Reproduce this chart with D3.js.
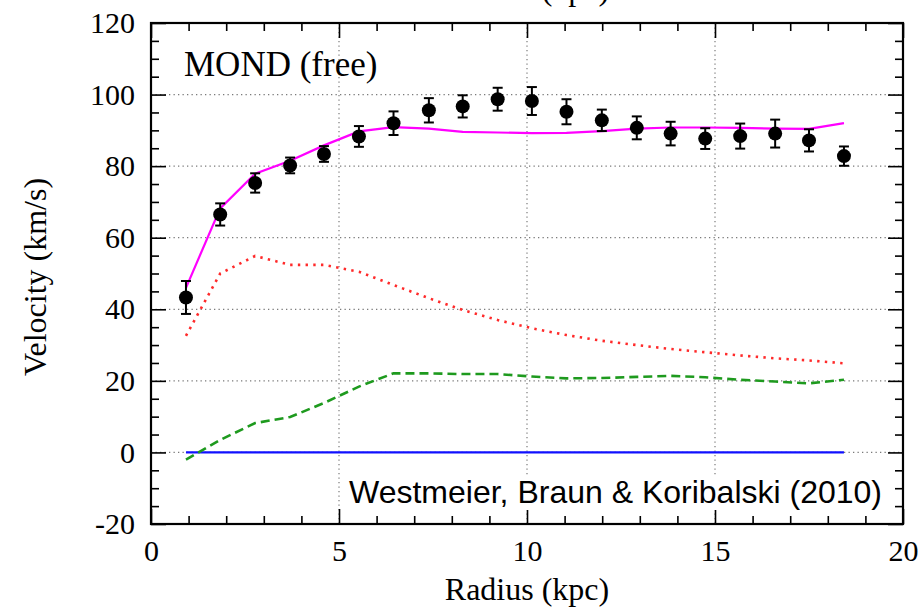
<!DOCTYPE html>
<html>
<head>
<meta charset="utf-8">
<script src="https://cdn.jsdelivr.net/npm/d3@7"></script>
<style>
  html, body { margin: 0; padding: 0; background: #fff; }
  svg { display: block; }
  .serif { font-family: "Liberation Serif", "Times New Roman", serif; }
</style>
</head>
<body>
<svg id="chart" width="923" height="607"></svg>
<script>
// Rotation curve: radius (kpc) for each sample
const radius = [0.93, 1.84, 2.77, 3.70, 4.60, 5.53, 6.45, 7.39, 8.29, 9.22,
                10.13, 11.05, 11.99, 12.92, 13.82, 14.74, 15.67, 16.60, 17.50, 18.43];
// Observed rotation velocity and its uncertainty (km/s)
const observed = [43.3, 66.5, 75.3, 80.2, 83.4, 88.3, 92.0, 95.6, 96.7, 98.7,
                  98.2, 95.2, 92.8, 90.7, 89.1, 87.7, 88.4, 89.1, 87.2, 82.8];
const observedErr = [4.6, 3.1, 2.7, 2.2, 2.2, 2.9, 3.3, 3.4, 3.1, 3.2,
                     3.9, 3.5, 3.0, 3.2, 3.3, 2.9, 3.5, 3.9, 3.1, 2.7];
// MOND fit
const mondFit = [46.0, 68.2, 77.9, 81.5, 85.8, 89.7, 90.9, 90.5, 89.6, 89.4,
                 89.2, 89.3, 89.8, 90.5, 90.8, 90.8, 90.7, 90.5, 90.4, 92.0];
// Stellar disc contribution
const stellar = [32.6, 50.0, 54.9, 52.4, 52.4, 50.5, 46.8, 43.1, 39.8, 37.0,
                 34.7, 32.8, 31.2, 30.0, 28.9, 28.0, 27.1, 26.3, 25.7, 24.9];
// Gas contribution
const gas = [-2.0, 3.5, 8.2, 9.9, 13.8, 18.4, 22.1, 22.1, 21.9, 21.9,
             21.2, 20.7, 20.8, 21.1, 21.4, 21.0, 20.3, 19.8, 19.3, 20.3];
// Dark halo contribution (none under MOND)
const halo = [0, 0, 0, 0, 0, 0, 0, 0, 0, 0, 0, 0, 0, 0, 0, 0, 0, 0, 0, 0];

const xMajor = [0, 5, 10, 15, 20];
const yMajor = [-20, 0, 20, 40, 60, 80, 100, 120];

const svg = d3.select("#chart");
const plotL = 151, plotR = 903, plotT = 23, plotB = 524;

const x = d3.scaleLinear().domain([0, 20]).range([plotL, plotR]);
const y = d3.scaleLinear().domain([-20, 120]).range([plotB, plotT]);

// Grid lines at the inner major ticks
const grid = svg.append("g")
  .attr("stroke", "#7a7a7a").attr("stroke-width", 1.2)
  .attr("stroke-dasharray", "1.3,3.2");
grid.selectAll("line.gx").data([5, 10, 15]).join("line")
  .attr("x1", d => x(d)).attr("x2", d => x(d))
  .attr("y1", plotT).attr("y2", plotB);
grid.selectAll("line.gy").data([0, 20, 40, 60, 80, 100]).join("line")
  .attr("x1", plotL).attr("x2", plotR)
  .attr("y1", d => y(d)).attr("y2", d => y(d));

// Model curves
const lineOf = vals => d3.line().x((d, i) => x(radius[i])).y(d => y(d))(vals);

svg.append("path").attr("d", lineOf(halo))
  .attr("fill", "none").attr("stroke", "#1010ff").attr("stroke-width", 2.2);
svg.append("path").attr("d", lineOf(gas))
  .attr("fill", "none").attr("stroke", "#1e9a1e").attr("stroke-width", 2.6)
  .attr("stroke-dasharray", "9,5");
svg.append("path").attr("d", lineOf(stellar))
  .attr("fill", "none").attr("stroke", "#ff2a2a").attr("stroke-width", 2.6)
  .attr("stroke-dasharray", "2.4,5.3");
svg.append("path").attr("d", lineOf(mondFit))
  .attr("fill", "none").attr("stroke", "#ff00ff").attr("stroke-width", 2.2);

// Observed points with error bars
const pts = svg.append("g").attr("stroke", "#000").attr("stroke-width", 2);
observed.forEach((v, i) => {
  const cx = x(radius[i]);
  const hi = y(v + observedErr[i]), lo = y(v - observedErr[i]);
  pts.append("line").attr("x1", cx).attr("x2", cx).attr("y1", hi).attr("y2", lo);
  pts.append("line").attr("x1", cx - 5).attr("x2", cx + 5).attr("y1", hi).attr("y2", hi);
  pts.append("line").attr("x1", cx - 5).attr("x2", cx + 5).attr("y1", lo).attr("y2", lo);
  svg.append("circle").attr("cx", cx).attr("cy", y(v)).attr("r", 7).attr("fill", "#000");
});

// Axes: ticks point inward on all four sides
function styleAxis(g) {
  g.select(".domain").remove();
  g.selectAll(".tick line").attr("stroke", "#000").attr("stroke-width", 1.6);
  g.selectAll(".tick text").attr("class", "serif").attr("font-size", 30).attr("fill", "#000");
}
const plain = d => String(d);
const xMinorTicks = d3.range(0, 21, 1).filter(v => v % 5 !== 0);
const yMinorTicks = d3.range(-20, 121, 5).filter(v => v % 20 !== 0);

svg.append("g").attr("transform", `translate(0,${plotB})`)
  .call(d3.axisBottom(x).tickValues(xMajor).tickSize(-15).tickPadding(16).tickFormat(plain))
  .call(styleAxis);
svg.append("g").attr("transform", `translate(0,${plotB})`)
  .call(d3.axisBottom(x).tickValues(xMinorTicks).tickSize(-8).tickFormat(""))
  .call(styleAxis);
svg.append("g").attr("transform", `translate(0,${plotT})`)
  .call(d3.axisTop(x).tickValues(xMajor).tickSize(-15).tickFormat(""))
  .call(styleAxis);
svg.append("g").attr("transform", `translate(0,${plotT})`)
  .call(d3.axisTop(x).tickValues(xMinorTicks).tickSize(-8).tickFormat(""))
  .call(styleAxis);
svg.append("g").attr("transform", `translate(${plotL},0)`)
  .call(d3.axisLeft(y).tickValues(yMajor).tickSize(-15).tickPadding(16).tickFormat(plain))
  .call(styleAxis);
svg.append("g").attr("transform", `translate(${plotL},0)`)
  .call(d3.axisLeft(y).tickValues(yMinorTicks).tickSize(-8).tickFormat(""))
  .call(styleAxis);
svg.append("g").attr("transform", `translate(${plotR},0)`)
  .call(d3.axisRight(y).tickValues(yMajor).tickSize(-15).tickFormat(""))
  .call(styleAxis);
svg.append("g").attr("transform", `translate(${plotR},0)`)
  .call(d3.axisRight(y).tickValues(yMinorTicks).tickSize(-8).tickFormat(""))
  .call(styleAxis);

// Frame
svg.append("rect").attr("x", plotL).attr("y", plotT)
  .attr("width", plotR - plotL).attr("height", plotB - plotT)
  .attr("fill", "none").attr("stroke", "#000").attr("stroke-width", 2.2);

// Axis titles (the top one belongs to the panel above and runs off the edge)
svg.append("text").attr("class", "serif").attr("font-size", 32)
  .attr("x", 527).attr("y", 600).attr("text-anchor", "middle")
  .text("Radius (kpc)");
svg.append("text").attr("class", "serif").attr("font-size", 32)
  .attr("x", 527).attr("y", 0).attr("text-anchor", "middle")
  .text("Radius (kpc)");
svg.append("text").attr("class", "serif").attr("font-size", 32)
  .attr("transform", `translate(46,277) rotate(-90)`)
  .attr("text-anchor", "middle")
  .text("Velocity (km/s)");

// Panel label
svg.append("text").attr("class", "serif").attr("font-size", 35)
  .attr("x", 184).attr("y", 76).text("MOND (free)");

// Reference note, on a white box
const note = svg.append("g");
const noteText = note.append("text")
  .attr("font-family", "'Liberation Sans', Arial, sans-serif").attr("font-size", 32)
  .attr("x", 882).attr("y", 503).attr("text-anchor", "end")
  .text("Westmeier, Braun & Koribalski (2010)");
const bb = noteText.node().getBBox();
note.insert("rect", "text")
  .attr("x", bb.x - 4).attr("y", bb.y + 2)
  .attr("width", bb.width + 8).attr("height", bb.height - 2)
  .attr("fill", "#fff");
</script>
</body>
</html>
